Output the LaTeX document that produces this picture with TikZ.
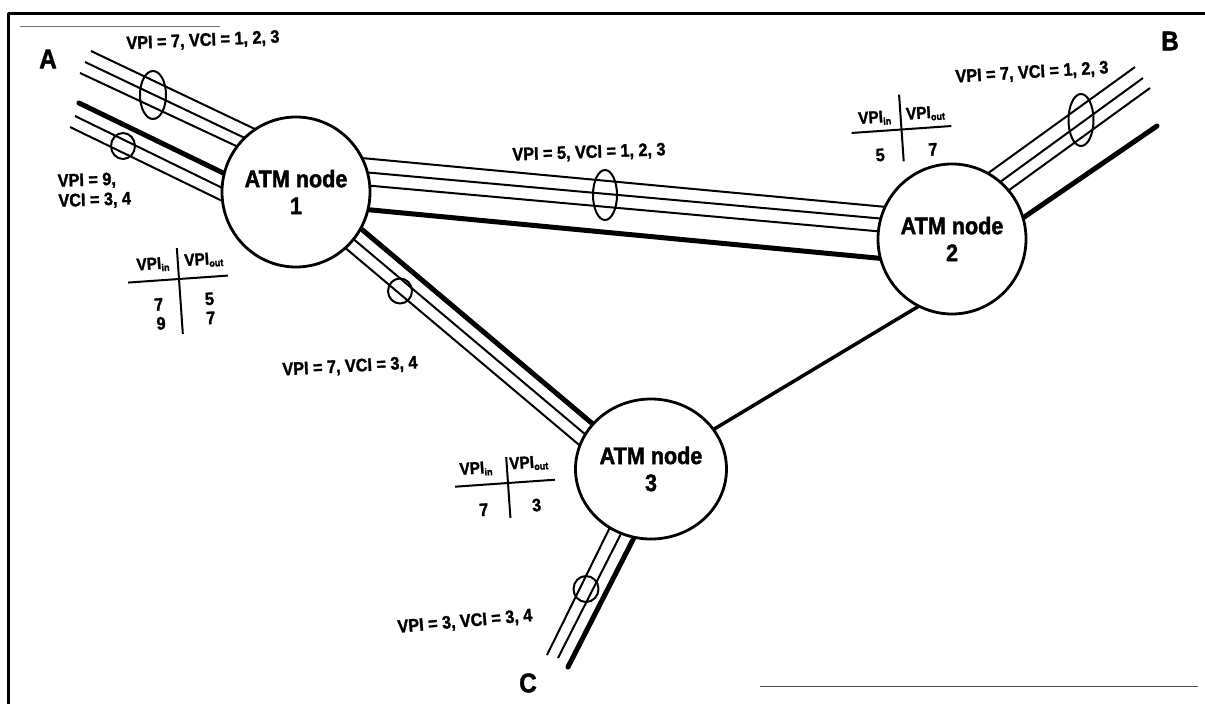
\documentclass[tikz,border=0pt]{standalone}
\usepackage{fontspec}
\usetikzlibrary{calc,shapes.geometric}
\newfontfamily\lbl[FakeStretch=0.9, FakeBold=1.6]{Liberation Sans Bold}
\newcommand\vpisub[1]{VPI{\fontsize{10}{10}\selectfont\raisebox{-2.5pt}{#1}}}
\pgfdeclarelayer{bg}
\pgfsetlayers{bg,main}
\tikzset{
  atm/.style={ellipse, draw, line width=2.8pt, fill=white, inner sep=0pt, align=center,
    font=\lbl\fontsize{24}{27}\selectfont},
  thinln/.style={line width=2pt},
  thickln/.style={line width=5pt, line cap=round},
  midln/.style={line width=3.5pt},
  marker/.style={ellipse, draw, line width=2pt, inner sep=0pt},
  elab/.style={font=\lbl\fontsize{18}{20}\selectfont, inner sep=0pt},
  tlab/.style={font=\lbl\fontsize{17}{18}\selectfont, inner sep=0pt},
  tnum/.style={font=\lbl\fontsize{18}{19}\selectfont, inner sep=0pt},
  tline/.style={line width=2pt},
  endlab/.style={font=\lbl\fontsize{27}{28}\selectfont, inner sep=0pt},
}
\begin{document}
\begin{tikzpicture}[x=1pt, y=-1pt, line join=round]
\useasboundingbox (0,0) rectangle (1205,704);
% frame
\draw[line width=3pt] (8,704) -- (8,13) -- (1205,13);
\draw[line width=0.8pt, black!55] (20,26) -- (220,26);
\draw[line width=1pt, black!70] (760,686) -- (1198,686);

% ATM nodes
\node[atm, minimum width=148pt, minimum height=150pt] (n1) at (296,192) {ATM node\\1};
\node[atm, minimum width=148pt, minimum height=150pt] (n2) at (952,239) {ATM node\\2};
\node[atm, minimum width=151pt, minimum height=140pt] (n3) at (651,469) {ATM node\\3};

% free ends
\coordinate (A1) at (91,51);
\coordinate (A2) at (85,62);
\coordinate (A3) at (80,73);
\coordinate (A4) at (79,103);
\coordinate (A5) at (75,116);
\coordinate (A6) at (70,127);
\coordinate (B1) at (1135,67);
\coordinate (B2) at (1143,78);
\coordinate (B3) at (1150,88);
\coordinate (B4) at (1157,126);
\coordinate (C1) at (547,655);
\coordinate (C2) at (558,658);
\coordinate (C3) at (568,667);

\begin{pgfonlayer}{bg}
  % A - node 1
  \draw[thinln] (A1) -- ($(n1)+(-18,-52)$);
  \draw[thinln] (A2) -- ($(n1)+(-26,-42)$);
  \draw[thinln] (A3) -- ($(n1)+(-32,-33)$);
  \draw[thickln] (A4) -- ($(n1)+(-48,-7)$);
  \draw[thinln] (A5) -- ($(n1)+(-49,8)$);
  \draw[thinln] (A6) -- ($(n1)+(-51,20)$);
  % node 1 - node 2
  \draw[thinln] ($(n1)+(44,-36)$) -- ($(n2)+(-44,-30)$);
  \draw[thinln] ($(n1)+(44,-22)$) -- ($(n2)+(-44,-18)$);
  \draw[thinln] ($(n1)+(44,-9)$) -- ($(n2)+(-44,-5)$);
  \draw[thickln] ($(n1)+(44,15)$) -- ($(n2)+(-44,22)$);
  % node 1 - node 3
  \draw[thickln] ($(n1)+(44,19)$) -- ($(n3)+(-38,-28)$);
  \draw[thinln] ($(n1)+(36,29)$) -- ($(n3)+(-46,-18)$);
  \draw[thinln] ($(n1)+(28,38)$) -- ($(n3)+(-54,-9)$);
  % node 2 - B
  \draw[thinln] (B1) -- ($(n2)+(10,-47)$);
  \draw[thinln] (B2) -- ($(n2)+(22,-38)$);
  \draw[thinln] (B3) -- ($(n2)+(31,-30)$);
  \draw[thickln] (B4) -- ($(n2)+(46,-4)$);
  % node 2 - node 3
  \draw[midln] ($(n2)+(-28,64)$) -- ($(n3)+(10,-8)$);
  % node 3 - C
  \draw[thinln] (C1) -- ($(n3)+(-33,42)$);
  \draw[thinln] (C2) -- ($(n3)+(-21,47)$);
  \draw[thickln] (C3) -- ($(n3)+(-8,51)$);
\end{pgfonlayer}

% bundle markers
\node[marker, minimum width=26pt, minimum height=48pt] (mA1) at (153,95) {};
\node[marker, minimum width=24pt, minimum height=26pt] (mA2) at (123,146) {};
\node[marker, minimum width=24pt, minimum height=50pt] (m12) at (605,195) {};
\node[marker, minimum width=25pt, minimum height=52pt] (mB) at (1081,120) {};
\node[marker, minimum width=24pt, minimum height=25pt] (m13) at (400,291) {};
\node[marker, minimum width=25pt, minimum height=26pt] (mC) at (586,589) {};

% edge labels
\node[elab, rotate=2.5] (lA1) at (203,41) {VPI = 7, VCI = 1, 2, 3};
\node[elab, rotate=2, anchor=west, align=left] (lA2) at (58,192) {VPI = 9,\\VCI = 3, 4};
\node[elab, rotate=2] (l12) at (589,153) {VPI = 5, VCI = 1, 2, 3};
\node[elab, rotate=3.5] (lB) at (1032,73) {VPI = 7, VCI = 1, 2, 3};
\node[elab, rotate=3] (l13) at (350,367) {VPI = 7, VCI = 3, 4};
\node[elab, rotate=5] (lC) at (465,622) {VPI = 3, VCI = 3, 4};

% end labels
\node[endlab] (A) at (48,59) {A};
\node[endlab] (B) at (1170,41) {B};
\node[endlab] (C) at (528,683) {C};

% table at node 1
\begin{scope}[shift={(179,279)}, rotate=4, transform shape]
  \draw[tline] (-51,0) -- (49,0);
  \draw[tline] (0,-31) -- (0,55);
  \node[tlab] (t1a) at (-25,-16) {\vpisub{in}};
  \node[tlab] (t1b) at (26,-17) {\vpisub{out}};
  \node[tnum] (t1c) at (-22,24) {7};
  \node[tnum] (t1d) at (-21,43) {9};
  \node[tnum] (t1e) at (29,22) {5};
  \node[tnum] (t1f) at (29,41) {7};
\end{scope}

% table at node 2
\begin{scope}[shift={(901.5,129.5)}, rotate=4, transform shape]
  \draw[tline] (-50,0) -- (50,0);
  \draw[tline] (0,-35) -- (0,32);
  \node[tlab] (t2a) at (-26,-13) {\vpisub{in}};
  \node[tlab] (t2b) at (25,-14) {\vpisub{out}};
  \node[tnum] (t2c) at (-23,24) {5};
  \node[tnum] (t2d) at (30,22) {7};
\end{scope}

% table at node 3
\begin{scope}[shift={(508,483)}, rotate=4, transform shape]
  \draw[tline] (-53,0) -- (47,0);
  \draw[tline] (0,-26) -- (0,35);
  \node[tlab] (t3a) at (-31,-16) {\vpisub{in}};
  \node[tlab] (t3b) at (22,-18) {\vpisub{out}};
  \node[tnum] (t3c) at (-26,25) {7};
  \node[tnum] (t3d) at (27,24) {3};
\end{scope}
\end{tikzpicture}
\end{document}
